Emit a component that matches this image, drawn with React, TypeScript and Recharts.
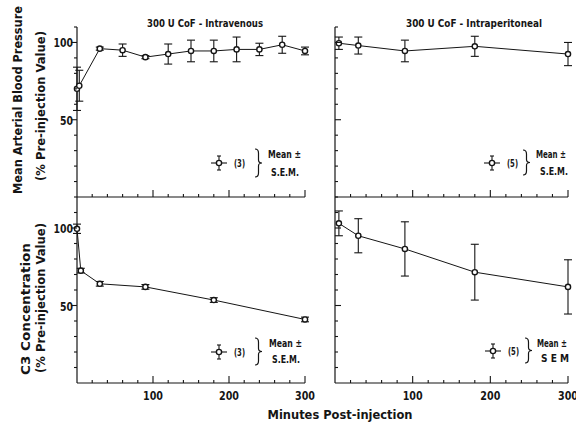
import { LineChart, Line, XAxis, YAxis, ErrorBar } from "recharts"

// minutes post-injection, mean and S.E.M.
const ivBpTime = [0, 3, 30, 60, 90, 120, 150, 180, 210, 240, 270, 300]
const ivBpMean = [70, 72, 96, 95, 90.5, 92.5, 94.5, 94.5, 95.5, 95.5, 98.5, 94.5]
const ivBpSem = [14, 10, 1, 4, 1, 6.5, 7, 7, 8, 4, 5.5, 2.5]

const ipBpTime = [5, 30, 90, 180, 300]
const ipBpMean = [99.5, 98, 94.5, 97.5, 92.5]
const ipBpSem = [4, 5.5, 7, 6.5, 7.5]

const ivC3Time = [0, 5, 30, 90, 180, 300]
const ivC3Mean = [99.5, 72.5, 64, 62, 53.5, 41]
const ivC3Sem = [3, 1.5, 1.5, 1.5, 1.5, 1.5]

const ipC3Time = [5, 30, 90, 180, 300]
const ipC3Mean = [103, 95, 86.5, 71.5, 62]
const ipC3Sem = [8, 11, 17.5, 18, 17.5]

const xTicks = [0, 20, 40, 60, 80, 100, 120, 140, 160, 180, 200, 220, 240, 260, 280, 300]
const xLabels = [100, 200, 300]
const bpTicks = [0, 10, 20, 30, 40, 50, 60, 70, 80, 90, 100, 110]
const c3Ticks = [0, 10, 20, 30, 40, 50, 60, 70, 80, 90, 100, 110, 120]
const yLabels = [50, 100]

const INK = "#151515"
const FONT = "'DejaVu Sans Condensed', 'Liberation Sans Narrow', 'DejaVu Sans', sans-serif"

const toRows = (t: number[], m: number[], e: number[]) =>
  t.map((v, i) => ({ t: v, y: m[i], e: e[i] }))

const makeXTick = (withLabels: boolean) => (props: any) => {
  const { x, y, payload } = props
  const v = payload.value
  if (v === 0) return <g />
  const major = xLabels.includes(v)
  return (
    <g>
      <line x1={x} x2={x} y1={y} y2={y - (major ? 7 : 3)} stroke={INK} strokeWidth={1.1} />
      {withLabels && major && (
        <text x={x} y={y + 17} textAnchor="middle" fontFamily={FONT} fontWeight="bold" fontSize={13}
          fill={INK} textLength={20} lengthAdjust="spacingAndGlyphs">
          {v}
        </text>
      )}
    </g>
  )
}

const makeYTick = (outer: boolean) => (props: any) => {
  const { x, y, payload } = props
  const v = payload.value
  if (v === 0) return <g />
  const major = yLabels.includes(v)
  const len = major ? 6 : 3
  const label = String(v)
  return (
    <g>
      <line x1={x} x2={outer ? x - len : x + len} y1={y} y2={y} stroke={INK} strokeWidth={1.1} />
      {outer && major && (
        <text x={x - 4} y={y + 5} textAnchor="end" fontFamily={FONT} fontWeight="bold" fontSize={13}
          fill={INK} textLength={label.length * 6.5} lengthAdjust="spacingAndGlyphs">
          {label}
        </text>
      )}
    </g>
  )
}

interface PanelProps {
  left: number
  top: number
  width: number
  height: number
  marginTop: number
  marginRight: number
  yWidth: number
  xHeight: number
  rows: { t: number; y: number; e: number }[]
  yMax: number
  yTicks: number[]
  outerY: boolean
  xText: boolean
}

function Panel(p: PanelProps) {
  return (
    <div style={{ position: "absolute", left: p.left, top: p.top }}>
      <LineChart
        width={p.width}
        height={p.height}
        data={p.rows}
        margin={{ top: p.marginTop, right: p.marginRight, bottom: 0, left: 0 }}
      >
        <XAxis
          dataKey="t"
          type="number"
          domain={[0, 300]}
          ticks={xTicks}
          interval={0}
          height={p.xHeight}
          tickSize={0}
          tickMargin={0}
          tickLine={false}
          axisLine={{ stroke: INK, strokeWidth: 1.2 }}
          tick={makeXTick(p.xText)}
        />
        <YAxis
          type="number"
          domain={[0, p.yMax]}
          ticks={p.yTicks}
          interval={0}
          width={p.yWidth}
          tickSize={0}
          tickMargin={0}
          tickLine={false}
          axisLine={{ stroke: INK, strokeWidth: 1.2 }}
          tick={makeYTick(p.outerY)}
        />
        <Line
          dataKey="y"
          type="linear"
          stroke={INK}
          strokeWidth={1}
          dot={{ r: 2.6, fill: "#fff", stroke: INK, strokeWidth: 1.4 }}
          isAnimationActive={false}
        >
          <ErrorBar dataKey="e" width={4} stroke={INK} strokeWidth={1.1} direction="y" />
        </Line>
      </LineChart>
    </div>
  )
}

interface KeyProps {
  x: number
  y: number
  n: string
  mean: number
  sem: number
  nx: number
  bx: number
  bTop: number
  bBot: number
  mx: number
  sx: number
  semText: string
  mw: number
}

function Key(k: KeyProps) {
  const { x, y, bx, bTop, bBot } = k
  const mid = (bTop + bBot) / 2
  const brace = `M ${bx} ${bTop} Q ${bx + 3.5} ${bTop} ${bx + 3.5} ${bTop + 4} L ${bx + 3.5} ${mid - 3} Q ${bx + 3.5} ${mid} ${bx + 7} ${mid} Q ${bx + 3.5} ${mid} ${bx + 3.5} ${mid + 3} L ${bx + 3.5} ${bBot - 4} Q ${bx + 3.5} ${bBot} ${bx} ${bBot}`
  return (
    <g fontFamily={FONT} fontWeight="bold" fill={INK}>
      <line x1={x - 8} x2={x + 8} y1={y} y2={y} stroke={INK} strokeWidth={1.1} />
      <line x1={x} x2={x} y1={y - 7} y2={y + 7} stroke={INK} strokeWidth={1.1} />
      <line x1={x - 2} x2={x + 2} y1={y - 7} y2={y - 7} stroke={INK} strokeWidth={1.1} />
      <line x1={x - 2} x2={x + 2} y1={y + 7} y2={y + 7} stroke={INK} strokeWidth={1.1} />
      <circle cx={x} cy={y} r={2.6} fill="#fff" stroke={INK} strokeWidth={1.4} />
      <text x={k.nx} y={y + 4} fontSize={10} textLength={11} lengthAdjust="spacingAndGlyphs">
        {k.n}
      </text>
      <path d={brace} fill="none" stroke={INK} strokeWidth={1.2} />
      <text x={k.mx} y={k.mean} fontSize={10.5} textLength={k.mw} lengthAdjust="spacingAndGlyphs">
        Mean ±
      </text>
      <text x={k.sx} y={k.sem} fontSize={10.5} textLength={28} lengthAdjust="spacingAndGlyphs">
        {k.semText}
      </text>
    </g>
  )
}

export default function App() {
  return (
    <div style={{ position: "fixed", left: 0, top: 0, width: 576, height: 423, background: "#fff", overflow: "hidden" }}>
      <Panel left={0} top={0} width={320} height={215} marginTop={27} marginRight={15} yWidth={77} xHeight={18}
        rows={toRows(ivBpTime, ivBpMean, ivBpSem)} yMax={110} yTicks={bpTicks} outerY xText={false} />
      <Panel left={320} top={0} width={256} height={215} marginTop={27} marginRight={8} yWidth={15} xHeight={18}
        rows={toRows(ipBpTime, ipBpMean, ipBpSem)} yMax={110} yTicks={bpTicks} outerY={false} xText={false} />
      <Panel left={0} top={190} width={320} height={233} marginTop={7} marginRight={15} yWidth={77} xHeight={40}
        rows={toRows(ivC3Time, ivC3Mean, ivC3Sem)} yMax={120} yTicks={c3Ticks} outerY xText />
      <Panel left={320} top={190} width={256} height={233} marginTop={7} marginRight={8} yWidth={15} xHeight={40}
        rows={toRows(ipC3Time, ipC3Mean, ipC3Sem)} yMax={120} yTicks={c3Ticks} outerY={false} xText />
      <svg width={576} height={423} style={{ position: "absolute", left: 0, top: 0, pointerEvents: "none" }}>
        <g fontFamily={FONT} fontWeight="bold" fill={INK}>
          <text x={205} y={27} fontSize={10.5} textAnchor="middle" textLength={116} lengthAdjust="spacingAndGlyphs">
            300 U CoF - Intravenous
          </text>
          <text x={474} y={27} fontSize={10.5} textAnchor="middle" textLength={136} lengthAdjust="spacingAndGlyphs">
            300 U CoF - Intraperitoneal
          </text>
          <text x={340} y={419} fontSize={13} textAnchor="middle" textLength={145} lengthAdjust="spacingAndGlyphs">
            Minutes Post-injection
          </text>
          <text transform="translate(22,100) rotate(-90)" fontSize={12.5} textAnchor="middle" textLength={188} lengthAdjust="spacingAndGlyphs">
            Mean Arterial Blood Pressure
          </text>
          <text transform="translate(45,106) rotate(-90)" fontSize={12.5} textAnchor="middle" textLength={150} lengthAdjust="spacingAndGlyphs">
            (% Pre-injection Value)
          </text>
          <text transform="translate(30,309) rotate(-90)" fontSize={12.5} textAnchor="middle" textLength={132} lengthAdjust="spacingAndGlyphs">
            C3 Concentration
          </text>
          <text transform="translate(45,298) rotate(-90)" fontSize={12.5} textAnchor="middle" textLength={150} lengthAdjust="spacingAndGlyphs">
            (% Pre-injection Value)
          </text>
        </g>
        <Key x={219} y={163} n="(3)" nx={234} bx={255} bTop={149} bBot={177} mx={268} sx={271} mean={158} sem={176} semText="S.E.M." mw={33} />
        <Key x={219} y={352} n="(3)" nx={234} bx={255} bTop={338} bBot={365} mx={269} sx={272} mean={347} sem={363} semText="S.E.M." mw={33} />
        <Key x={492} y={163} n="(5)" nx={507} bx={523} bTop={150} bBot={175} mx={536} sx={540} mean={158} sem={175} semText="S.E.M." mw={30} />
        <Key x={493} y={351} n="(5)" nx={508} bx={525} bTop={338} bBot={363} mx={537} sx={541} mean={347} sem={362} semText="S E M" mw={30} />
      </svg>
    </div>
  )
}
